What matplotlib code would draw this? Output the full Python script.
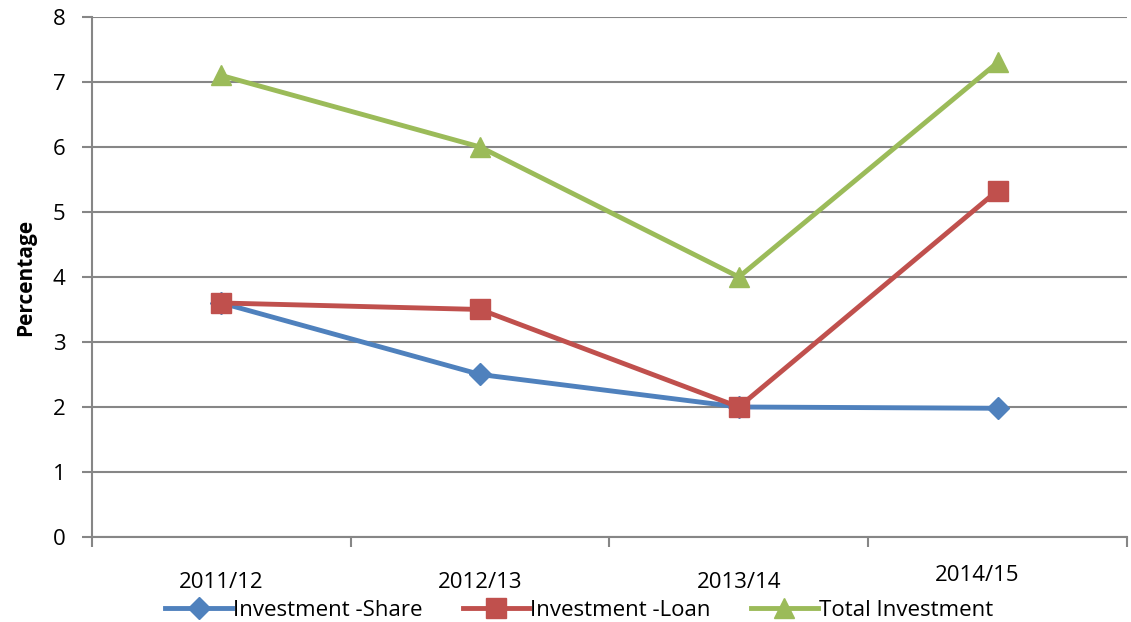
import matplotlib.pyplot as plt
import matplotlib.transforms as mtransforms
import numpy as np

plt.rcParams['font.family'] = ['Open Sans', 'DejaVu Sans']

years = ["2011/12", "2012/13", "2013/14", "2014/15"]
share = [3.6, 2.5, 2.0, 1.98]
loan = [3.6, 3.5, 2.0, 5.33]
total = [7.1, 6.0, 4.0, 7.3]

x = np.arange(len(years))

fig = plt.figure(figsize=(11.31, 6.22), dpi=100)
ax = fig.add_axes([0.0813, 0.1367, 0.9152, 0.836])

grid_c = "#868686"
ax.plot(x, share, color="#4F81BD", lw=3.5, marker="D", ms=11, label="Investment -Share", zorder=3)
ax.plot(x, loan, color="#C0504D", lw=3.5, marker="s", ms=14, label="Investment -Loan", zorder=4)
ax.plot(x, total, color="#9BBB59", lw=3.5, marker="^", ms=15, label="Total Investment", zorder=5)

ax.set_xlim(-0.5, 3.5)
ax.set_ylim(0, 8)
ax.set_yticks(range(0, 9))
ax.yaxis.grid(True, color=grid_c, lw=1.5)
ax.set_axisbelow(True)

ax.set_xticks(x)
ax.set_xticklabels(years)
ax.set_xticks(np.arange(-0.5, 4, 1), minor=True)
ax.tick_params(axis="x", which="major", length=0, pad=25, labelsize=16)
ax.tick_params(axis="x", which="minor", length=7, width=1.5, color=grid_c)
ax.tick_params(axis="y", length=7, width=1.5, color=grid_c, labelsize=16, pad=12)

# last label sits a bit off in the original
lbl = ax.get_xticklabels()[3]
lbl.set_transform(lbl.get_transform() + mtransforms.ScaledTranslation(-0.21, 0.07, fig.dpi_scale_trans))

for s in ["top", "right"]:
    ax.spines[s].set_visible(False)
for s in ["left", "bottom"]:
    ax.spines[s].set_color(grid_c)
    ax.spines[s].set_linewidth(1.5)

ax.set_ylabel("Percentage", fontsize=15, fontweight="bold", labelpad=12)

fig.legend(loc="lower center", bbox_to_anchor=(0.512, -0.02), ncol=3, frameon=False,
           fontsize=16, handlelength=3.0, handletextpad=0.05, columnspacing=1.8, borderaxespad=0.2)

fig.savefig("out.png", dpi=100)
